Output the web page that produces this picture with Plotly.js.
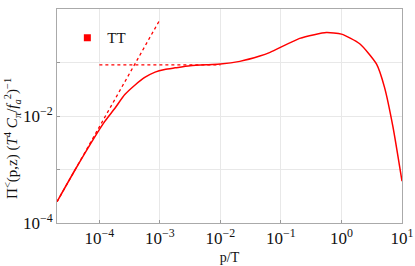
<!DOCTYPE html>
<html>
<head>
<meta charset="utf-8">
<script src="https://cdn.plot.ly/plotly-3.0.1.min.js"></script>
<style>html,body{margin:0;padding:0;background:#fff;}#chart{width:415px;height:266px;}</style>
</head>
<body>
<div id="chart"></div>
<script>
// Main curve: p/T and Pi
const pT = [2.0e-5, 4.0e-5, 8.5e-5, 1.23e-4, 1.82e-4, 2.63e-4, 3.89e-4, 5.62e-4, 8.32e-4, 1.20e-3, 1.78e-3, 3.16e-3, 6.31e-3, 1.0e-2, 2.09e-2, 4.47e-2, 6.61e-2, 0.204, 0.355, 0.562, 1.0, 2.0, 3.8, 5.13, 7.08, 10];
const piTT = [2.51e-4, 1.0e-3, 4.17e-3, 7.94e-3, 1.41e-2, 2.51e-2, 3.80e-2, 5.25e-2, 6.61e-2, 7.41e-2, 7.94e-2, 8.71e-2, 9.12e-2, 9.33e-2, 0.105, 0.132, 0.155, 0.282, 0.331, 0.363, 0.339, 0.224, 9.33e-2, 3.47e-2, 6.31e-3, 6.03e-4];
// Asymptotes (dotted)
const lowX = [2.0e-5, 1.0e-3];
const lowY = [2.5e-4, 0.63];
const flatX = [1.0e-4, 1.0e-2];
const flatY = [0.09, 0.09];
// Tick labels
const xTickVals = [1e-4, 1e-3, 1e-2, 1e-1, 1, 10];
const xTickText = ['10<sup>−4</sup>', '10<sup>−3</sup>', '10<sup>−2</sup>', '10<sup>−1</sup>', '10<sup>0</sup>', '10<sup>1</sup>'];
const yTickVals = [1e-4, 1e-3, 1e-2, 1e-1, 1];
const yTickText = ['10<sup>−4</sup>', '', '10<sup>−2</sup>', '', '10<sup>0</sup>'];
const yTitle = 'Π<sup>&lt;</sup>(p,z) (<i>T</i><sup>4</sup> <i>C<sub>π</sub></i>/<i>f<sub>a</sub></i><sup>2</sup>)<sup>−1</sup>';

const red = '#ff0000';
const serif = 'Liberation Serif, DejaVu Serif, serif';
const ink = '#111';
const traces = [
  {x: pT, y: piTT, mode: 'lines', line: {color: red, width: 1.5, shape: 'spline', smoothing: 0.6}, showlegend: false, hoverinfo: 'skip'},
  {x: lowX, y: lowY, mode: 'lines', line: {color: red, width: 1.3, dash: 'dot'}, showlegend: false},
  {x: flatX, y: flatY, mode: 'lines', line: {color: red, width: 1.3, dash: 'dot'}, showlegend: false},
  {x: [null], y: [null], mode: 'markers', marker: {symbol: 'square', color: red, size: 7}, name: 'TT', showlegend: true}
];
const layout = {
  width: 415, height: 266,
  margin: {l: 57, r: 13, t: 9, b: 43},
  paper_bgcolor: '#fff', plot_bgcolor: '#fff',
  font: {family: serif, color: ink, size: 14},
  showlegend: true,
  legend: {x: 0.03, y: 0.865, xanchor: 'left', yanchor: 'middle', bgcolor: 'rgba(0,0,0,0)', font: {family: serif, size: 15, color: ink}, itemwidth: 30, tracegroupgap: 0},
  xaxis: {
    type: 'log', range: [-4.7, 1],
    tickvals: xTickVals, ticktext: xTickText,
    showgrid: true, gridcolor: '#e8e8e8', gridwidth: 1,
    showline: true, mirror: true, linecolor: '#aaaaaa', linewidth: 1,
    ticks: 'inside', ticklen: 3, tickcolor: '#999',
    zeroline: false,
    tickfont: {family: serif, size: 17, color: ink},
    title: {text: 'p/T', font: {family: serif, size: 14, color: ink}, standoff: 4}
  },
  yaxis: {
    type: 'log', range: [-4, 0],
    tickvals: yTickVals, ticktext: yTickText,
    showgrid: true, gridcolor: '#e8e8e8', gridwidth: 1,
    showline: true, mirror: true, linecolor: '#aaaaaa', linewidth: 1,
    ticks: 'inside', ticklen: 3, tickcolor: '#999',
    zeroline: false,
    tickfont: {family: serif, size: 17, color: ink}
  },
  annotations: [{
    text: yTitle, textangle: -90, showarrow: false,
    xref: 'paper', yref: 'paper', x: 0, xanchor: 'center', xshift: -45,
    y: 0.393, yanchor: 'middle',
    font: {family: serif, size: 15, color: ink}
  }]
};
Plotly.newPlot('chart', traces, layout, {displayModeBar: false, staticPlot: true});
</script>
</body>
</html>
